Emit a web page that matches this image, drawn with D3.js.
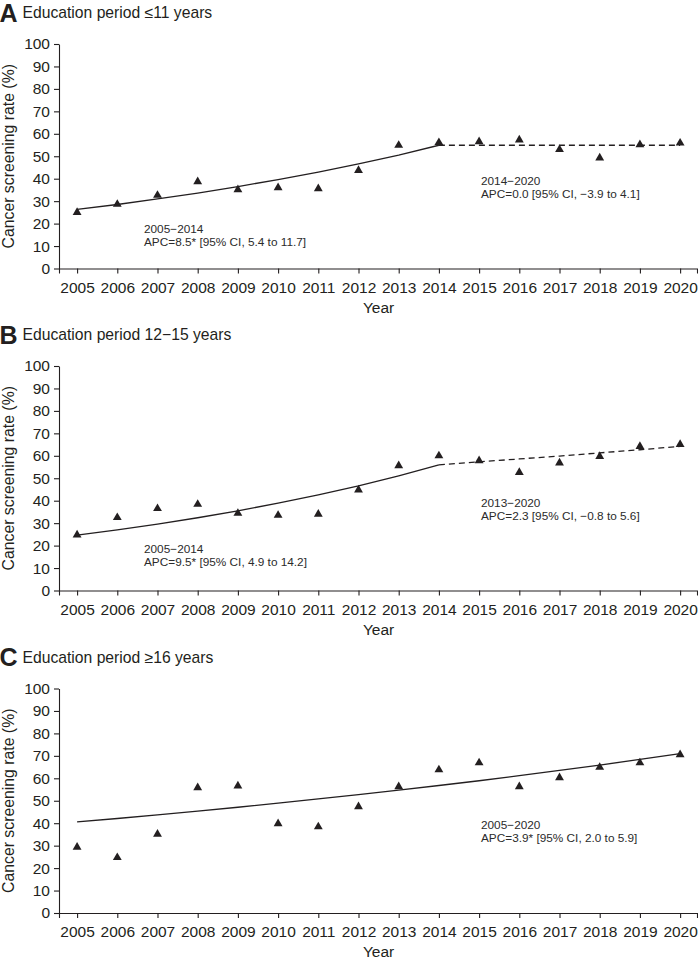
<!DOCTYPE html>
<html>
<head>
<meta charset="utf-8">
<script src="https://cdn.jsdelivr.net/npm/d3@7"></script>
<style>
  body { margin: 0; background: #fff; }
  svg { display: block; font-family: "Liberation Sans", Arial, Helvetica, sans-serif; }
</style>
</head>
<body>
<svg id="chart" width="698" height="961"></svg>
<script>
// ---------------- data ----------------
const years = [2005, 2006, 2007, 2008, 2009, 2010, 2011, 2012, 2013, 2014, 2015, 2016, 2017, 2018, 2019, 2020];
const yTicks = [0, 10, 20, 30, 40, 50, 60, 70, 80, 90, 100];

// observed screening rates (%)
const rateA = [25.0, 28.6, 32.6, 38.7, 35.1, 36.0, 35.6, 43.7, 54.9, 56.1, 56.5, 57.3, 53.0, 49.3, 55.2, 55.9];
const rateB = [24.8, 32.5, 36.5, 38.4, 34.4, 33.5, 34.0, 44.8, 55.6, 60.0, 57.8, 52.6, 56.8, 59.7, 64.2, 65.1];
const rateC = [29.3, 24.7, 35.1, 55.8, 56.6, 39.8, 38.4, 47.4, 56.3, 63.8, 66.9, 56.3, 60.3, 64.9, 66.9, 70.5];

// joinpoint fitted values
const fitYearsA1 = [2005, 2006, 2007, 2008, 2009, 2010, 2011, 2012, 2013, 2014];
const fitA1 = [26.3, 28.5, 31.0, 33.6, 36.5, 39.6, 42.9, 46.6, 50.5, 54.9];
const fitYearsA2 = [2014, 2015, 2016, 2017, 2018, 2019, 2020];
const fitA2 = [54.9, 54.9, 54.9, 54.9, 54.9, 54.9, 54.9];

const fitYearsB1 = [2005, 2006, 2007, 2008, 2009, 2010, 2011, 2012, 2013, 2014];
const fitB1 = [24.7, 27.0, 29.6, 32.4, 35.5, 38.9, 42.6, 46.6, 51.1, 56.0];
const fitYearsB2 = [2014, 2015, 2016, 2017, 2018, 2019, 2020];
const fitB2 = [56.0, 57.3, 58.6, 59.9, 61.3, 62.7, 64.2];

const fitYearsC1 = years;
const fitC1 = [40.6, 42.1, 43.7, 45.4, 47.1, 48.9, 50.8, 52.7, 54.7, 56.8, 58.9, 61.2, 63.5, 65.9, 68.4, 71.0];

const panelLetters = ["A", "B", "C"];
const panelTitles = ["Education period \u226411 years", "Education period 12\u221215 years", "Education period \u226516 years"];
const annotA = [["2005\u22122014", "APC=8.5* [95% CI, 5.4 to 11.7]"], ["2014\u22122020", "APC=0.0 [95% CI, \u22123.9 to 4.1]"]];
const annotB = [["2005\u22122014", "APC=9.5* [95% CI, 4.9 to 14.2]"], ["2013\u22122020", "APC=2.3 [95% CI, \u22120.8 to 5.6]"]];
const annotC = [["2005\u22122020", "APC=3.9* [95% CI, 2.0 to 5.9]"]];
const yLabel = "Cancer screening rate (%)";
const xLabel = "Year";

// ---------------- layout ----------------
const ink = "#231f20";
const panels = [
  { rates: rateA, solid: [fitYearsA1, fitA1], dashed: [fitYearsA2, fitA2], annot: annotA,
    annotPos: [[144, 189], [481, 140.5]] },
  { rates: rateB, solid: [fitYearsB1, fitB1], dashed: [fitYearsB2, fitB2], annot: annotB,
    annotPos: [[144, 186.5], [481, 140.5]] },
  { rates: rateC, solid: [fitYearsC1, fitC1], dashed: null, annot: annotC,
    annotPos: [[481, 140.3]] }
];
const panelTops = [44, 366, 688.5];
const plotH = 224.5;
const xLeft = 59, xRight = 697;

const svg = d3.select("#chart");
const x = d3.scaleLinear().domain([2004.55, 2020.42]).range([xLeft, xRight]);

panels.forEach((p, i) => {
  const top = panelTops[i];
  const bottom = top + plotH;
  const y = d3.scaleLinear().domain([0, 100]).range([bottom, top]);
  const g = svg.append("g");

  // titles
  g.append("text").attr("x", -0.5).attr("y", top - 22.5)
    .attr("font-size", 25).attr("font-weight", "bold").attr("fill", ink)
    .text(panelLetters[i]);
  g.append("text").attr("x", 22.5).attr("y", top - 25.7)
    .attr("font-size", 15.7).attr("fill", ink)
    .text(panelTitles[i]);

  // axes
  const yAxis = d3.axisLeft(y).tickValues(yTicks).tickSize(5).tickSizeOuter(0).tickPadding(4);
  const gy = g.append("g").attr("transform", `translate(${xLeft},0)`).call(yAxis);
  const xAxis = d3.axisBottom(x).tickValues(years).tickFormat(d3.format("d")).tickSize(5).tickSizeOuter(5).tickPadding(8);
  const gx = g.append("g").attr("transform", `translate(0,${bottom})`).call(xAxis);
  [gx, gy].forEach(a => {
    a.selectAll("path, line").attr("stroke", ink).attr("stroke-width", 1.1);
    a.selectAll("text").attr("font-size", 15.5).attr("fill", ink)
      .attr("font-family", "'Liberation Sans', Arial, sans-serif");
  });

  // axis labels
  g.append("text")
    .attr("transform", `translate(13.5,${(top + bottom) / 2}) rotate(-90)`)
    .attr("text-anchor", "middle").attr("font-size", 15.8).attr("fill", ink)
    .text(yLabel);
  g.append("text").attr("x", x(2012.5)).attr("y", bottom + 44)
    .attr("text-anchor", "middle").attr("font-size", 15.5).attr("fill", ink)
    .text(xLabel);

  // fitted lines
  const line = d3.line().x(d => x(d[0])).y(d => y(d[1]));
  g.append("path").datum(d3.zip(p.solid[0], p.solid[1]))
    .attr("d", line).attr("fill", "none").attr("stroke", ink).attr("stroke-width", 1.3);
  if (p.dashed) {
    g.append("path").datum(d3.zip(p.dashed[0], p.dashed[1]))
      .attr("d", line).attr("fill", "none").attr("stroke", ink).attr("stroke-width", 1.3)
      .attr("stroke-dasharray", "6,4");
  }

  // markers
  const tri = d3.symbol().type(d3.symbolTriangle).size(34);
  g.selectAll("path.pt").data(d3.zip(years, p.rates)).join("path")
    .attr("class", "pt")
    .attr("transform", d => `translate(${x(d[0])},${y(d[1])})`)
    .attr("d", tri).attr("fill", ink);

  // annotations
  p.annot.forEach((lines, k) => {
    const [ax, ay] = p.annotPos[k];
    const t = g.append("text").attr("font-size", 11.8).attr("fill", "#2b2b2b");
    lines.forEach((s, j) => {
      t.append("tspan").attr("x", ax).attr("y", top + ay + j * 13).text(s);
    });
  });
});
</script>
</body>
</html>
